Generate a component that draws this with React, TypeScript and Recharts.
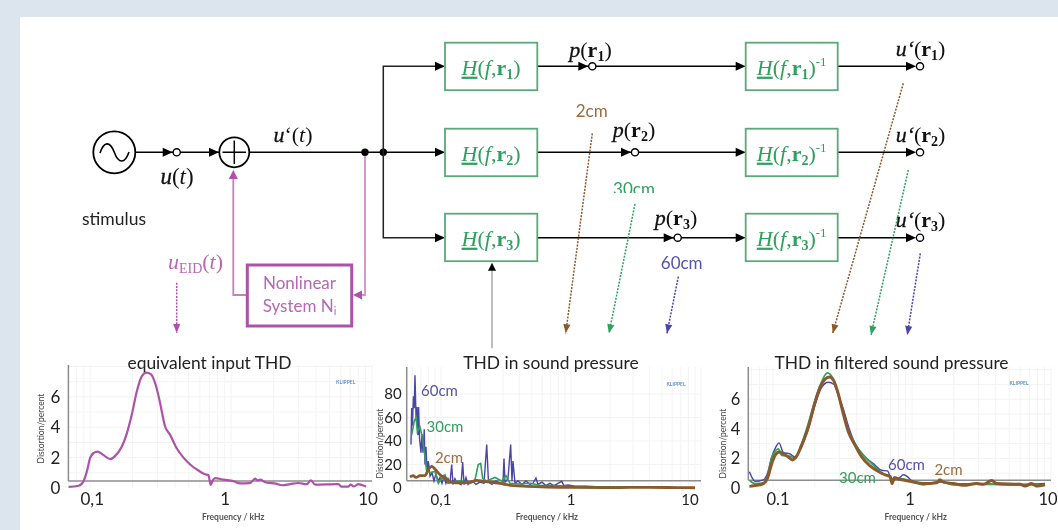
import * as React from "react";
import { CartesianGrid, LineChart, Line, ReferenceLine, XAxis, YAxis } from "recharts";

// equivalent input THD
const inputF = [0.07, 0.0827, 0.0897, 0.0947, 0.1, 0.1056, 0.1127, 0.123, 0.1386, 0.15, 0.168, 0.182, 0.198, 0.214, 0.232, 0.25, 0.269, 0.289, 0.31, 0.34, 0.369, 0.412, 0.459, 0.512, 0.586, 0.654, 0.69, 0.717, 0.741, 0.77, 0.882, 1.04, 1.158, 1.36, 1.48, 1.54, 1.62, 1.74, 2.11, 2.29, 2.62, 3.0, 3.44, 3.69, 3.94, 5.77, 6.09, 6.8, 7.05, 7.45, 8.0, 8.45, 9.07];
const inputV = [0.07, 0.15, 0.45, 1.1, 2.0, 2.3, 2.4, 2.2, 1.9, 2.1, 2.75, 3.6, 4.9, 6.35, 7.35, 7.6, 7.5, 6.9, 5.8, 4.05, 3.5, 2.6, 2.0, 1.55, 1.15, 0.9, 0.85, 0.2, 0.5, 0.65, 0.55, 0.45, 0.3, 0.32, 0.62, 0.5, 0.55, 0.38, 0.27, 0.18, 0.25, 0.33, 0.25, 0.5, 0.22, 0.25, 0.09, 0.09, 0.22, 0.1, 0.26, 0.2, 0.1];

// THD in sound pressure
const spl60F = [0.0588, 0.0595, 0.0603, 0.0614, 0.0623, 0.0631, 0.0643, 0.0654, 0.0665, 0.0673, 0.0684, 0.0702, 0.0714, 0.0727, 0.0744, 0.0753, 0.0767, 0.0781, 0.0799, 0.0824, 0.0853, 0.0883, 0.0915, 0.0948, 0.0983, 0.1018, 0.1054, 0.1092, 0.1132, 0.1173, 0.1209, 0.1237, 0.1281, 0.1328, 0.1376, 0.1426, 0.1469, 0.1503, 0.1557, 0.1614, 0.1733, 0.1859, 0.1995, 0.2142, 0.2248, 0.2319, 0.2469, 0.265, 0.2844, 0.2999, 0.3053, 0.3108, 0.3276, 0.3436, 0.3517, 0.3579, 0.371, 0.3912, 0.4198, 0.4506, 0.484, 0.51, 0.5377, 0.5569, 0.598, 0.6424, 0.6887, 0.7396, 0.7943, 0.8476, 0.8831, 0.9484, 1.074, 1.282, 1.671, 2.382, 4.055, 8.99];
const spl60V = [37, 68, 53, 78, 68, 96, 60, 69, 45, 69, 42, 30, 46, 30, 50, 20, 35, 15, 23, 10, 13, 6, 12, 6, 9, 4, 10, 4, 8, 4, 20, 3, 8, 4, 4, 3, 22, 3, 9, 3, 6, 3, 5, 4, 37, 5, 3, 6, 4, 4, 25, 5, 8, 37, 6, 23, 4, 6, 3, 6, 3, 4, 8.5, 3, 5, 2, 4, 2, 4, 5.7, 2, 2.5, 1.5, 1.5, 1, 0.8, 0.5, 0.3];
const spl30F = [0.0595, 0.0623, 0.0643, 0.0658, 0.0689, 0.0722, 0.0753, 0.0774, 0.0824, 0.09, 0.0954, 0.1011, 0.1074, 0.1132, 0.1281, 0.1479, 0.167, 0.1828, 0.1934, 0.202, 0.2094, 0.2248, 0.2603, 0.293, 0.3162, 0.3394, 0.4055, 0.484, 0.578, 0.731, 0.9825, 1.671, 4.055];
const spl30V = [45, 57, 60, 48, 52, 42, 27, 15, 13, 14, 4, 8, 11, 4, 5.7, 6, 4, 7, 20, 21, 8, 6, 9, 6, 10.5, 4, 3.4, 4, 2.3, 2, 1.4, 1, 0.8];
const spl2F = [0.0578, 0.0611, 0.0643, 0.0689, 0.0753, 0.0799, 0.0848, 0.09, 0.0983, 0.1074, 0.1209, 0.14, 0.167, 0.1883, 0.2116, 0.2526, 0.3014, 0.36, 0.456, 0.65, 0.9825, 2.116, 3.82, 6.893, 8.99];
const spl2V = [9.4, 10.5, 9, 10.5, 10.5, 15.6, 18.4, 16, 11.3, 8.5, 4.8, 4.3, 4.8, 6.5, 5.7, 4.8, 3.4, 2, 1.4, 0.85, 0.6, 0.3, 0.6, 0.3, 0.2];

// THD in filtered sound pressure
const filt60F = [0.0676, 0.0714, 0.0741, 0.0852, 0.091, 0.0978, 0.1045, 0.1104, 0.1187, 0.1325, 0.1439, 0.1607, 0.1795, 0.2005, 0.2239, 0.25, 0.2748, 0.2951, 0.3206, 0.3483, 0.389, 0.4592, 0.5272, 0.6053, 0.6683, 0.7178, 0.7464, 0.798, 0.867, 0.9161, 0.9945, 1.206, 1.59, 1.983, 2.919, 5.07, 9.057];
const filt60V = [1.1, 0.63, 0.45, 0.55, 0.97, 2.1, 2.75, 3.05, 2.4, 2.3, 2.1, 2.75, 4, 5.6, 6.8, 7.15, 7.0, 6.25, 5.35, 4.2, 3, 2.1, 1.65, 1.2, 1.15, 0.4, 0.75, 0.67, 0.9, 0.8, 0.5, 0.3, 0.4, 0.27, 0.3, 0.22, 0.3];
const filt30F = [0.0682, 0.0741, 0.0852, 0.091, 0.0978, 0.1092, 0.1155, 0.1325, 0.1439, 0.1607, 0.1746, 0.2005, 0.2178, 0.246, 0.2716, 0.2951, 0.3206, 0.3483, 0.389, 0.4592, 0.5272, 0.6219, 0.695, 0.7223, 0.7762, 0.9673, 1.206, 1.59, 1.983, 2.919, 5.07, 9.057];
const filt30V = [0.5, 0.3, 0.33, 0.75, 2.0, 2.65, 2.2, 2.15, 2.0, 3.0, 4.0, 5.9, 6.9, 7.78, 7.35, 6.35, 5.0, 3.9, 3.0, 2.1, 1.55, 0.95, 0.8, 0.4, 0.67, 0.5, 0.22, 0.45, 0.22, 0.27, 0.22, 0.22];
const filt2F = [0.0676, 0.0763, 0.0852, 0.091, 0.0978, 0.1034, 0.1104, 0.1187, 0.1289, 0.1377, 0.1479, 0.1607, 0.1795, 0.2005, 0.2178, 0.2366, 0.2541, 0.2716, 0.2951, 0.3206, 0.3483, 0.389, 0.4345, 0.4989, 0.5728, 0.6577, 0.695, 0.7178, 0.743, 0.8433, 1.022, 1.206, 1.505, 1.59, 1.68, 1.983, 2.341, 2.919, 3.26, 3.741, 4.064, 5.984, 6.501, 7.261, 7.888, 9.057];
const filt2V = [0.11, 0.18, 0.3, 0.63, 1.64, 2.2, 2.43, 2.3, 2.1, 1.9, 2.15, 2.9, 4.1, 5.8, 6.8, 7.35, 7.5, 7.3, 6.35, 5, 3.8, 2.9, 2.1, 1.5, 1.12, 0.85, 0.8, 0.3, 0.67, 0.56, 0.4, 0.3, 0.36, 0.55, 0.4, 0.3, 0.18, 0.3, 0.25, 0.5, 0.3, 0.25, 0.13, 0.3, 0.13, 0.22];

const gridFreqs = [0.06, 0.07, 0.08, 0.09, 0.1, 0.2, 0.3, 0.4, 0.5, 0.6, 0.7, 0.8, 0.9, 1, 2, 3, 4, 5, 6, 7, 8, 9, 10];

const PURPLE = "#ad52a8";
const BLUE = "#4a45a6";
const GREEN = "#2fa05e";
const BROWN = "#8b5a2b";
const BOX_GREEN = "#5aa97a";
const LABEL_FONT = "Lato, 'Open Sans', sans-serif";
const MATH_FONT = "'Liberation Serif', serif";

const zip = (f: number[], v: number[]) => f.map((x, i) => ({ f: x, v: v[i] }));

interface Series {
  f: number[];
  v: number[];
  color: string;
  width: number;
  curve: "linear" | "monotone";
}

interface ThdChartProps {
  left: number;
  top: number;
  width: number;
  height: number;
  yAxisWidth: number;
  marginRight: number;
  marginTop: number;
  xMin: number;
  yMax: number;
  yTicks: number[];
  yGrid: number[];
  axisY: number;
  decimal: string;
  labelShift: Record<string, number>;
  tickFont: number;
  tickMargin: number;
  titleDx: number;
  yTitleDx: number;
  yTitleDy: number;
  series: Series[];
}

function ThdChart(p: ThdChartProps) {
  const majorTick = (props: any) => {
    const value = props.payload.value;
    if (value !== 0.1 && value !== 1 && value !== 10) return <g />;
    const label = value === 0.1 ? `0${p.decimal}1` : String(value);
    return (
      <text x={props.x + (p.labelShift[label] || 0)} y={505} textAnchor="middle" fontSize={p.tickFont} fill="#222" fontFamily={LABEL_FONT} transform={`translate(0,${-p.top})`}>
        {label}
      </text>
    );
  };
  return (
    <div style={{ position: "absolute", left: p.left, top: p.top }}>
      <LineChart width={p.width} height={p.height} margin={{ left: 0, right: p.marginRight, top: p.marginTop, bottom: 0 }}>
        <CartesianGrid stroke="#f3f3f3" horizontalValues={p.yGrid} />
        <XAxis
          type="number"
          dataKey="f"
          scale="log"
          domain={[p.xMin, 10]}
          ticks={gridFreqs.filter((g) => g >= p.xMin)}
          interval={0}
          allowDataOverflow
          axisLine={false}
          tickLine={false}
          tick={majorTick}
          height={530 - 488}
          label={{ value: "Frequency / kHz", position: "insideBottom", dx: p.titleDx, dy: -5, fontSize: 8.5, fontWeight: 700, fill: "#555", fontFamily: LABEL_FONT }}
        />
        <YAxis
          type="number"
          domain={[0, p.yMax]}
          ticks={p.yTicks}
          interval={0}
          width={p.yAxisWidth}
          axisLine={false}
          tickLine={false}
          tickMargin={p.tickMargin}
          tick={{ fontSize: p.tickFont, fill: "#222", fontFamily: LABEL_FONT }}
          label={{ value: "Distortion/percent", angle: -90, position: "insideLeft", dx: p.yTitleDx, dy: p.yTitleDy, fontSize: 8.5, fontWeight: 400, fill: "#444", fontFamily: LABEL_FONT, style: { textAnchor: "middle" } }}
        />
        <ReferenceLine y={p.axisY} stroke="#8c8c8c" strokeWidth={1.5} />
        <ReferenceLine segment={[{ x: p.xMin, y: p.axisY }, { x: p.xMin, y: p.yMax }]} stroke="#8c8c8c" strokeWidth={1.5} />
        {p.series.map((s, i) => (
          <Line key={i} data={zip(s.f, s.v)} dataKey="v" type={s.curve} stroke={s.color} strokeWidth={s.width} dot={false} isAnimationActive={false} />
        ))}
      </LineChart>
    </div>
  );
}

// small filled arrow head, tip at (x, y), pointing along angle (degrees, 0 = right)
function Head({ x, y, angle = 0, len = 10, half = 4.5, color = "#000" }: any) {
  return <polygon points={`${x},${y} ${x - len},${y - half} ${x - len},${y + half}`} fill={color} transform={`rotate(${angle} ${x} ${y})`} />;
}

function DottedArrow({ x1, y1, x2, y2, color }: any) {
  const angle = (Math.atan2(y2 - y1, x2 - x1) * 180) / Math.PI;
  return (
    <g>
      <line x1={x1} y1={y1} x2={x2} y2={y2} stroke={color} strokeWidth={1.5} strokeDasharray="2 1.3" />
      <Head x={x2} y={y2} angle={angle} len={9} half={3.6} color={color} />
    </g>
  );
}

function Node({ x, y }: any) {
  return (
    <g>
      <Head x={x - 4} y={y} />
      <circle cx={x} cy={y} r={3.6} fill="#fff" stroke="#000" strokeWidth={1.4} />
    </g>
  );
}

function Transfer({ x, y, index, inverse }: any) {
  return (
    <g>
      <rect x={x} y={y} width={inverse ? 92 : 92.3} height={47.5} fill="#fff" stroke={BOX_GREEN} strokeWidth={1.8} />
      <text x={x + 46} y={y + 32} textAnchor="middle" fontFamily={MATH_FONT} fontSize={22} fill={GREEN}>
        <tspan fontStyle="italic" textDecoration="underline">H</tspan>(<tspan fontStyle="italic">f</tspan>,<tspan fontWeight={700}>r</tspan>
        <tspan fontWeight={700} fontSize={14} dy={4}>{index}</tspan>
        <tspan dy={-4}>)</tspan>
        {inverse ? <tspan fontSize={13} dy={-9}>-1</tspan> : null}
      </text>
    </g>
  );
}

function NodeLabel({ x, y, prefix, index }: any) {
  return (
    <text x={x} y={y} textAnchor="middle" fontFamily={MATH_FONT} fontSize={22} fill="#111">
      <tspan fontStyle="italic" stroke="#111" strokeWidth={0.3}>{prefix}</tspan>(<tspan fontWeight={700}>r</tspan>
      <tspan fontWeight={700} fontSize={14} dy={4}>{index}</tspan>
      <tspan dy={-4}>)</tspan>
    </text>
  );
}

function Diagram() {
  const rows = [66.3, 152.3, 237.7];
  const boxTops = [42.7, 128.7, 213.7];
  const pNodes = [592.3, 635, 677.7];
  const pLabels = [[590.5, 57], [634, 137], [676, 225]];
  const uLabels = [56, 142, 227];
  const chartText = { fontFamily: LABEL_FONT };
  return (
    <svg width={1058} height={530} style={{ position: "absolute", left: 0, top: 0, pointerEvents: "none" }}>
      {/* stimulus and adder */}
      <circle cx={114.3} cy={152.3} r={21} fill="none" stroke="#000" strokeWidth={1.8} />
      <path d="M100 153 C104 141,110 141,114.3 152.3 C118.5 164,125 164,129 152" fill="none" stroke="#000" strokeWidth={1.6} />
      <line x1={135} y1={152.3} x2={219} y2={152.3} stroke="#000" strokeWidth={1.5} />
      <Node x={176.7} y={152.3} />
      <Head x={219} y={152.3} />
      <circle cx={234.3} cy={152.3} r={15} fill="#fff" stroke="#000" strokeWidth={1.8} />
      <path d="M222.5 152.3 H246 M234.3 140.5 V164" stroke="#000" strokeWidth={1.5} />
      <line x1={249.5} y1={152.3} x2={436} y2={152.3} stroke="#000" strokeWidth={1.5} />
      <circle cx={365} cy={152.3} r={3.7} fill="#000" />
      <circle cx={383.3} cy={152.3} r={3.7} fill="#000" />
      <path d="M436 66.3 H383.3 V237.7 H436" fill="none" stroke="#222" strokeWidth={1.5} />
      <text x={293} y={142} textAnchor="middle" fontFamily={MATH_FONT} fontSize={22} fill="#111"><tspan fontStyle="italic" stroke="#111" strokeWidth={0.3}>u</tspan>‘(<tspan fontStyle="italic">t</tspan>)</text>
      <text x={177} y={184} textAnchor="middle" fontFamily={MATH_FONT} fontSize={23} fill="#111"><tspan fontStyle="italic" stroke="#111" strokeWidth={0.3}>u</tspan>(<tspan fontStyle="italic">t</tspan>)</text>
      <text x={114} y={224.5} textAnchor="middle" fontFamily={LABEL_FONT} fontSize={17.5} fill="#222">stimulus</text>

      {/* nonlinear feedback path */}
      <path d="M365 156 V295 H360" fill="none" stroke="#cf8fca" strokeWidth={1.8} />
      <path d="M247 295 H233.3 V178" fill="none" stroke="#c67fc1" strokeWidth={1.8} />
      <Head x={233.3} y={170} angle={-90} color={PURPLE} len={9} />
      <rect x={247.3} y={265} width={104.4} height={61} fill="#fff" stroke={PURPLE} strokeWidth={3} />
      <Head x={353} y={295} angle={180} color={PURPLE} len={9} />
      <text x={299.5} y={288.5} textAnchor="middle" fontFamily={LABEL_FONT} fontSize={17} fill="#b767b3">Nonlinear</text>
      <text x={299.5} y={312} textAnchor="middle" fontFamily={LABEL_FONT} fontSize={17} fill="#b767b3">System N<tspan fontSize={11} dy={3}>i</tspan></text>
      <text x={195.5} y={268.5} textAnchor="middle" fontFamily={MATH_FONT} fontSize={22} fill="#b968b4"><tspan fontStyle="italic">u</tspan><tspan fontSize={14} dy={4}>EID</tspan><tspan dy={-4}>(</tspan><tspan fontStyle="italic">t</tspan>)</text>
      <DottedArrow x1={176.7} y1={282.7} x2={176.7} y2={333} color={PURPLE} />

      {/* transfer function rows */}
      {rows.map((y, i) => (
        <g key={i}>
          <line x1={537} y1={y} x2={736} y2={y} stroke="#000" strokeWidth={1.5} />
          <line x1={837} y1={y} x2={908} y2={y} stroke="#000" strokeWidth={1.5} />
          <Head x={445} y={y} />
          <Head x={745.7} y={y} />
          <Transfer x={445} y={boxTops[i]} index={i + 1} />
          <Transfer x={745.7} y={boxTops[i]} index={i + 1} inverse />
          <Node x={pNodes[i]} y={y} />
          <Node x={920} y={y} />
          <NodeLabel x={pLabels[i][0]} y={pLabels[i][1]} prefix="p" index={i + 1} />
          <NodeLabel x={920.5} y={uLabels[i]} prefix="u‘" index={i + 1} />
        </g>
      ))}

      {/* gray pointer to the H(f,r3) box */}
      <line x1={492} y1={348.3} x2={492} y2={270} stroke="#aaa" strokeWidth={1.5} />
      <Head x={492} y={262.7} angle={-90} len={8} half={4} />

      {/* distance labels and dotted arrows */}
      <text x={591.7} y={116.5} textAnchor="middle" fontFamily={LABEL_FONT} fontSize={17} fill="#9c6b3f">2cm</text>
      <text x={634} y={195} textAnchor="middle" fontFamily={LABEL_FONT} fontSize={17} fill={GREEN}>30cm</text>
      <rect x={610} y={193} width={50} height={6} fill="#fff" />
      <text x={681.7} y={268.5} textAnchor="middle" fontFamily={LABEL_FONT} fontSize={17} fill="#5552ad">60cm</text>
      <DottedArrow x1={592.3} y1={133.3} x2={565.7} y2={333.3} color={BROWN} />
      <DottedArrow x1={635} y1={204} x2={609} y2={333.3} color={GREEN} />
      <DottedArrow x1={678.3} y1={276.7} x2={667} y2={333.3} color={BLUE} />
      <DottedArrow x1={903.3} y1={83.3} x2={832.7} y2={333.3} color={BROWN} />
      <DottedArrow x1={908.3} y1={170} x2={871} y2={335} color={GREEN} />
      <DottedArrow x1={920.3} y1={253.3} x2={907.3} y2={335} color={BLUE} />

      {/* chart titles and annotations */}
      <g {...chartText} fill="#222" fontSize={17.4} textAnchor="middle">
        <text x={209.5} y={368.5}>equivalent input THD</text>
        <text x={551} y={368.5}>THD in sound pressure</text>
        <text x={891.5} y={368.5}>THD in filtered sound pressure</text>
      </g>
      <g {...chartText} fontSize={5} fontWeight={700} fill="#5f93c7" textAnchor="middle">
        <text x={345.7} y={384}>KLIPPEL</text>
        <text x={676} y={386}>KLIPPEL</text>
        <text x={1019} y={385}>KLIPPEL</text>
      </g>
      <g {...chartText} fontSize={15} textAnchor="middle">
        <text x={439.5} y={395.5} fill="#5552ad">60cm</text>
        <text x={445} y={432} fill={GREEN}>30cm</text>
        <text x={449} y={463} fill="#9c6b3f">2cm</text>
        <text x={906.5} y={470} fill="#5552ad">60cm</text>
        <text x={857.5} y={483} fill={GREEN}>30cm</text>
        <text x={948.5} y={475} fill="#9c6b3f">2cm</text>
      </g>
    </svg>
  );
}

export default function App() {
  return (
    <div style={{ position: "absolute", left: 0, top: 0, width: 1058, height: 530, background: "#dce4ee", overflow: "hidden", filter: "blur(0.4px)" }}>
      <div style={{ position: "absolute", left: 20, top: 17, width: 1038, height: 513, background: "#fff" }} />
      <ThdChart
        left={20}
        top={355}
        width={360}
        height={175}
        yAxisWidth={48.4}
        marginRight={8}
        marginTop={10}
        xMin={0.07}
        yMax={8.1}
        yTicks={[0, 2, 4, 6]}
        yGrid={[1, 2, 3, 4, 5, 6, 7, 8]}
        axisY={0.46}
        decimal=","
        labelShift={{ "0,1": 2, "1": -6, "10": -4 }}
        tickFont={17}
        tickMargin={2}
        titleDx={13}
        yTitleDx={16}
        yTitleDy={2}
        series={[{ f: inputF, v: inputV, color: PURPLE, width: 2.2, curve: "monotone" }]}
      />
      <ThdChart
        left={362}
        top={355}
        width={345}
        height={175}
        yAxisWidth={44.7}
        marginRight={6}
        marginTop={12}
        xMin={0.0545}
        yMax={103}
        yTicks={[0, 20, 40, 60, 80]}
        yGrid={[20, 40, 60, 80]}
        axisY={6.2}
        decimal=","
        labelShift={{ "0,1": 0, "1": 0, "10": -11 }}
        tickFont={15}
        tickMargin={-1}
        titleDx={-7}
        yTitleDx={13}
        yTitleDy={16}
        series={[
          { f: spl60F, v: spl60V, color: BLUE, width: 1.4, curve: "linear" },
          { f: spl30F, v: spl30V, color: GREEN, width: 1.6, curve: "linear" },
          { f: spl2F, v: spl2V, color: BROWN, width: 2.8, curve: "monotone" },
        ]}
      />
      <ThdChart
        left={704}
        top={355}
        width={354}
        height={175}
        yAxisWidth={44.3}
        marginRight={7}
        marginTop={12}
        xMin={0.0664}
        yMax={8.18}
        yTicks={[0, 2, 4, 6]}
        yGrid={[1, 2, 3, 4, 5, 6, 7, 8]}
        axisY={0.525}
        decimal="."
        labelShift={{ "0.1": 5, "1": -2, "10": -3 }}
        tickFont={16.5}
        tickMargin={2}
        titleDx={16}
        yTitleDx={14}
        yTitleDy={16}
        series={[
          { f: filt60F, v: filt60V, color: BLUE, width: 1.4, curve: "monotone" },
          { f: filt30F, v: filt30V, color: GREEN, width: 1.8, curve: "monotone" },
          { f: filt2F, v: filt2V, color: BROWN, width: 3, curve: "monotone" },
        ]}
      />
      <Diagram />
    </div>
  );
}
